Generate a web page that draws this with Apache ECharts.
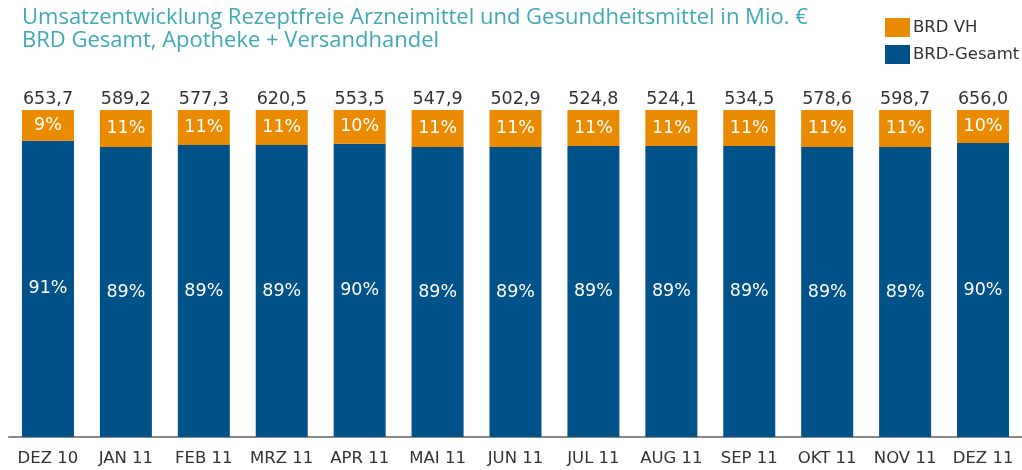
<!DOCTYPE html>
<html>
<head>
<meta charset="utf-8">
<script src="https://cdn.jsdelivr.net/npm/echarts@6/dist/echarts.min.js"></script>
<style>html,body{margin:0;padding:0;background:#fff}#c{width:1022px;height:470px}</style>
</head>
<body>
<div id="c"></div>
<script>
const categories = ['DEZ 10','JAN 11','FEB 11','MRZ 11','APR 11','MAI 11','JUN 11','JUL 11','AUG 11','SEP 11','OKT 11','NOV 11','DEZ 11'];
const totals = ['653,7','589,2','577,3','620,5','553,5','547,9','502,9','524,8','524,1','534,5','578,6','598,7','656,0'];
const shareVH = [9.4, 11.3, 10.7, 10.7, 10.3, 11.3, 11.3, 11.0, 11.0, 11.0, 11.3, 11.3, 10.1];
const shareGesamt = [90.6, 88.7, 89.3, 89.3, 89.7, 88.7, 88.7, 89.0, 89.0, 89.0, 88.7, 88.7, 89.9];
const topPad = [0,0,0,0,0,0,0,0,0,0,0,0,0];

const font = '"DejaVu Sans", Verdana, sans-serif';
const chart = echarts.init(document.getElementById('c'));
chart.setOption({
  animation: false,
  title: {
    text: 'Umsatzentwicklung Rezeptfreie Arzneimittel und Gesundheitsmittel in Mio. €\nBRD Gesamt, Apotheke + Versandhandel',
    left: 17, top: 1,
    textStyle: { color: '#3fa9b4', fontSize: 22, fontWeight: 'normal', fontFamily: '"Open Sans", sans-serif', lineHeight: 23 }
  },
  legend: {
    orient: 'vertical', left: 880, top: 13,
    itemWidth: 25, itemHeight: 19, itemGap: 8,
    icon: 'rect',
    data: ['BRD VH', 'BRD-Gesamt'],
    textStyle: { color: '#333', fontSize: 16.5, fontFamily: font, padding: [0,0,0,-2] }
  },
  grid: { left: 9, width: 1021, top: 110, bottom: 33, containLabel: false },
  xAxis: {
    type: 'category', data: categories,
    axisLine: { lineStyle: { color: '#888', width: 2 } },
    axisTick: { show: false },
    axisLabel: { color: '#333', fontSize: 16.5, fontFamily: font, margin: 13, interval: 0 }
  },
  yAxis: { type: 'value', min: 0, max: 100, show: false, splitLine: { show: false } },
  series: [
    {
      name: 'BRD-Gesamt', type: 'bar', stack: 's', data: shareGesamt, barWidth: 52,
      itemStyle: { color: '#005288' },
      label: { show: true, position: 'inside', color: '#fff', fontSize: 17.5, fontFamily: font,
        formatter: p => Math.round(p.value) + '%' }
    },
    {
      name: 'BRD VH', type: 'bar', stack: 's', data: shareVH, barWidth: 52,
      itemStyle: { color: '#e98a00' },
      label: { show: true, position: 'inside', color: '#fff', fontSize: 17.5, fontFamily: font,
        formatter: p => Math.round(p.value) + '%' }
    },
    {
      name: 'Gesamt', type: 'bar', stack: 's', data: topPad, barWidth: 52,
      itemStyle: { color: 'transparent' },
      label: { show: true, position: 'top', color: '#333', fontSize: 17.5, fontFamily: font, distance: 2,
        formatter: p => totals[p.dataIndex] }
    }
  ]
});
</script>
</body>
</html>
